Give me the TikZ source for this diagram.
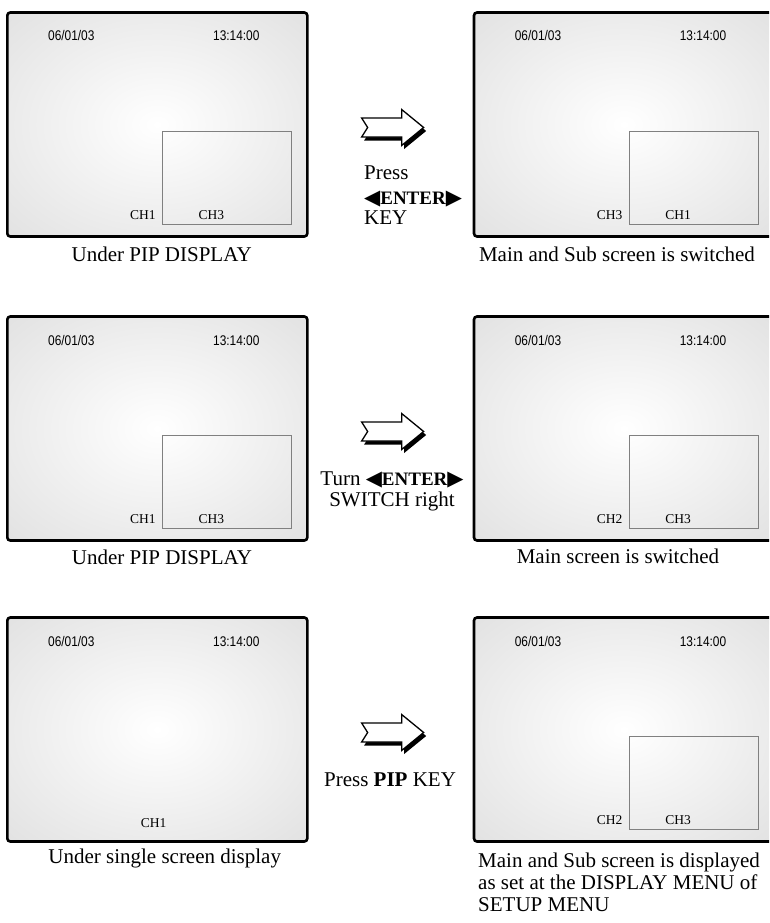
\documentclass[tikz,border=0pt]{standalone}
\usepackage{fontspec}
\setmainfont{Liberation Serif}
\newfontfamily\osdfont[FakeStretch=0.85]{Liberation Sans}
\newfontfamily\symfont{DejaVu Sans}
\usepackage{tikz}
\usetikzlibrary{calc}

\pgfdeclareradialshading{screenglow}{\pgfpoint{0bp}{0bp}}{color(0bp)=(white); color(50bp)=(black!16); color(72bp)=(black!21)}
\newcommand{\enterkey}{{\symfont\fontsize{21}{21}\selectfont ◀}{\bfseries\fontsize{19}{21}\selectfont ENTER}{\symfont\fontsize{21}{21}\selectfont ▶}}

\begin{document}
\begin{tikzpicture}[
x=1pt, y=-1pt,
screen/.style={draw, line width=2.6pt, rounded corners=3pt, minimum width=300pt, minimum height=224pt, inner sep=0pt, outer sep=0pt, shading=screenglow},
pip/.style={draw=black!50, line width=1.2pt, minimum width=129pt, minimum height=93pt, inner sep=0pt, outer sep=0pt, anchor=south east},
osd/.style={font=\osdfont\fontsize{14}{16}\selectfont, inner sep=0pt, anchor=base},
chan/.style={font=\fontsize{13.5}{15}\selectfont, inner sep=0pt, anchor=base},
legend/.style={font=\fontsize{21}{22.5}\selectfont, inner sep=0pt},
arrowpath/.style={insert path={(-31,-9.5) -- (9,-9.5) -- (9,-18) -- (31,0) -- (9,18) -- (9,9.5) -- (-31,9.5) -- (-25,0) -- cycle}},
fatarrow/.pic={
  \fill[black, shift={(2.5,3.5)}, arrowpath];
  \draw[fill=white, line width=1.3pt, line join=miter, arrowpath];
}
]
\useasboundingbox (0,0) rectangle (769,923);
\clip (0,0) rectangle (769,923);

% screens
\node[screen] (pipA) at (157.3,124.5) {};
\node[screen] (swapA) at (624,124.5) {};
\node[screen] (pipB) at (157.3,428.5) {};
\node[screen] (swapB) at (624,428.5) {};
\node[screen] (single) at (157.3,729.5) {};
\node[screen] (setup) at (624,729.5) {};

\foreach \s in {pipA,swapA,pipB,swapB,single,setup} {
  \node[osd] (\s-date) at ($(\s.north west)+(64,28.5)$) {06/01/03};
  \node[osd] (\s-time) at ($(\s.north west)+(229,28.5)$) {13:14:00};
}

% sub windows and channels
\foreach \s/\m/\b in {pipA/CH1/CH3, swapA/CH3/CH1, pipB/CH1/CH3, swapB/CH2/CH3, setup/CH2/CH3} {
  \node[pip] (\s-sub) at ($(\s.south east)+(-15.5,-12)$) {};
  \node[chan] (\s-main) at ($(\s.south west)+(135.5,-17)$) {\m};
  \node[chan] (\s-pip) at ($(\s.south west)+(204,-17)$) {\b};
}
\node[chan] (single-main) at ($(single.south west)+(146.3,-14)$) {CH1};

% arrows
\pic at ($(pipA.east)!0.5!(swapA.west)+(2,3)$) {fatarrow};
\pic at ($(pipB.east)!0.5!(swapB.west)+(2,3)$) {fatarrow};
\pic at ($(single.east)!0.5!(setup.west)+(2,3)$) {fatarrow};

\node[legend, align=left, anchor=north west] (keyA) at (364,166) {Press\\[2.5pt]\enterkey\\[-2.5pt]KEY};
\node[legend, align=center, anchor=north] (keyB) at (392,472) {Turn \enterkey\\[-1.8pt]SWITCH right};
\node[legend, anchor=base] (keyC) at (390,786.5) {Press \textbf{PIP} KEY};

% captions
\node[legend, anchor=base] (pipA-cap) at (161.7,261) {Under PIP DISPLAY};
\node[legend, anchor=base] (swapA-cap) at (617,261) {Main and Sub screen is switched};
\node[legend, anchor=base] (pipB-cap) at (162,564) {Under PIP DISPLAY};
\node[legend, anchor=base] (swapB-cap) at (618,563) {Main screen is switched};
\node[legend, anchor=base] (single-cap) at (164.7,863) {Under single screen display};
\node[legend, align=left, anchor=north west] (setup-cap) at (478,852.5) {Main and Sub screen is displayed\\[-0.5pt]as set at the DISPLAY MENU of\\[-0.5pt]SETUP MENU};
\end{tikzpicture}
\end{document}
